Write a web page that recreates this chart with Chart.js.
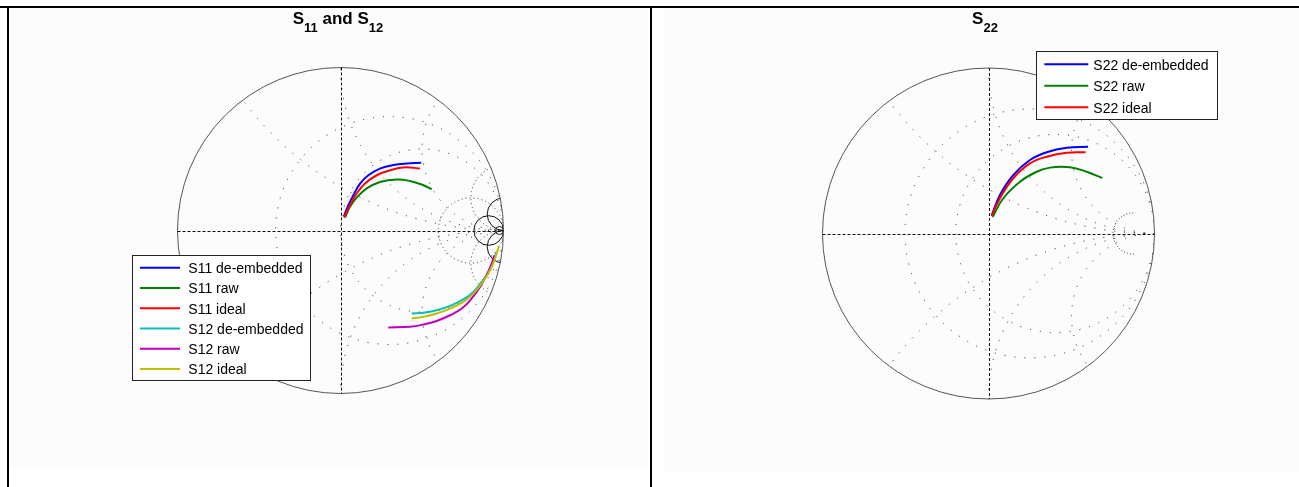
<!DOCTYPE html>
<html>
<head>
<meta charset="utf-8">
<title>S-parameter Smith charts</title>
<script src="https://cdn.jsdelivr.net/npm/chart.js@4.4.1/dist/chart.umd.min.js"></script>
<style>
  html, body { margin: 0; padding: 0; background: #fff; width: 1299px; height: 487px; overflow: hidden; }
  .tint { position: absolute; background: #fcfcfc; }
  .panel { position: absolute; top: 0; height: 487px; }
  .panel canvas { display: block; }
  .rule { position: absolute; background: #000; }
</style>
</head>
<body>
<div class="tint" style="left:9px;top:8px;width:639px;height:460px"></div>
<div class="tint" style="left:665px;top:8px;width:634px;height:464px"></div>
<div class="panel" style="left:0;width:650px"><canvas id="chartS11S12" width="650" height="487"></canvas></div>
<div class="panel" style="left:652px;width:647px"><canvas id="chartS22" width="647" height="487"></canvas></div>
<div class="rule" style="left:0;top:6px;width:1299px;height:2px"></div>
<div class="rule" style="left:7px;top:6px;width:2px;height:481px"></div>
<div class="rule" style="left:650px;top:6px;width:2px;height:481px"></div>

<script>
// Reflection coefficients (real / imaginary parts) over the measured sweep

// S11
const s11DeembRe = [0.021, 0.048, 0.079, 0.120, 0.171, 0.242, 0.324, 0.406, 0.495];
const s11DeembIm = [0.088, 0.155, 0.217, 0.288, 0.339, 0.380, 0.402, 0.411, 0.415];
const s11RawRe   = [0.028, 0.058, 0.099, 0.161, 0.242, 0.345, 0.426, 0.498, 0.559];
const s11RawIm   = [0.080, 0.145, 0.202, 0.258, 0.298, 0.313, 0.304, 0.282, 0.253];
const s11IdealRe = [0.021, 0.058, 0.099, 0.150, 0.222, 0.304, 0.396, 0.487];
const s11IdealIm = [0.080, 0.155, 0.227, 0.288, 0.339, 0.370, 0.388, 0.380];

// S12
const s12DeembRe = [0.437, 0.508, 0.590, 0.672, 0.754, 0.815, 0.866, 0.907, 0.937, 0.957];
const s12DeembIm = [-0.509, -0.505, -0.489, -0.462, -0.423, -0.377, -0.315, -0.254, -0.186, -0.133];
const s12RawRe   = [0.293, 0.426, 0.508, 0.590, 0.672, 0.744, 0.805, 0.856, 0.897, 0.928, 0.944];
const s12RawIm   = [-0.595, -0.591, -0.577, -0.555, -0.520, -0.479, -0.417, -0.346, -0.274, -0.202, -0.152];
const s12IdealRe = [0.437, 0.508, 0.590, 0.672, 0.754, 0.815, 0.866, 0.907, 0.937, 0.958, 0.972];
const s12IdealIm = [-0.540, -0.530, -0.509, -0.479, -0.438, -0.387, -0.325, -0.264, -0.202, -0.141, -0.096];

// S22
const s22DeembRe = [0.019, 0.069, 0.149, 0.250, 0.351, 0.471, 0.600];
const s22DeembIm = [0.108, 0.233, 0.353, 0.444, 0.491, 0.518, 0.524];
const s22RawRe   = [0.025, 0.089, 0.190, 0.290, 0.370, 0.491, 0.592, 0.685];
const s22RawIm   = [0.100, 0.213, 0.313, 0.373, 0.398, 0.400, 0.373, 0.335];
const s22IdealRe = [0.019, 0.069, 0.149, 0.250, 0.351, 0.471, 0.585];
const s22IdealIm = [0.106, 0.213, 0.334, 0.424, 0.464, 0.488, 0.491];

// Legend labels
const labelsLeft  = ['S11 de-embedded', 'S11 raw', 'S11 ideal', 'S12 de-embedded', 'S12 raw', 'S12 ideal'];
const labelsRight = ['S22 de-embedded', 'S22 raw', 'S22 ideal'];

// Smith grid values (normalised resistance / reactance)
const gridLeftR   = [0.43, 1];
const gridLeftX   = [0.5, 1, 2];
const gridLeftFineR = [4];
const gridLeftFineX = [5];
const gridLeftSolidR = [10, 40];
const gridLeftSolidX = [10];
const gridRightR  = [0.33, 0.67];
const gridRightX  = [0.5, 1, 2];
const gridRightHalfR = [7];

const FONT = '"Liberation Sans", Arial, Helvetica, sans-serif';

// Title with subscripted port indices
function drawTitle(ctx, parts, cx, base) {
  const f = p => (p.sub ? 'bold 13px ' : 'bold 17px ') + FONT;
  let w = 0;
  parts.forEach(p => { ctx.font = f(p); w += ctx.measureText(p.t).width; });
  let x = cx - w / 2;
  ctx.fillStyle = '#000';
  ctx.textBaseline = 'alphabetic';
  ctx.textAlign = 'left';
  parts.forEach(p => {
    ctx.font = f(p);
    ctx.fillText(p.t, x, base + (p.sub ? 8 : 0));
    x += ctx.measureText(p.t).width;
  });
}

const smithDecor = {
  id: 'smithDecor',
  beforeDatasetsDraw(chart, args, o) {
    const ctx = chart.ctx, xs = chart.scales.x, ys = chart.scales.y;
    const X = v => xs.getPixelForValue(v), Y = v => ys.getPixelForValue(v);
    const ux = X(1) - X(0), uy = Y(0) - Y(1);
    const cx0 = X(0), cy0 = Y(0);

    const ell = (gx, gy, rad, a0 = 0, a1 = 2 * Math.PI) => {
      ctx.beginPath();
      ctx.ellipse(X(gx), Y(gy), rad * ux, rad * uy, 0, a0, a1);
      ctx.stroke();
    };
    const rCircle = (r, a0, a1) => ell(r / (1 + r), 0, 1 / (1 + r), a0, a1);
    const xArcs = x => { ell(1, 1 / x, 1 / x); ell(1, -1 / x, 1 / x); };

    // grid, clipped to the unit circle
    ctx.save();
    ctx.beginPath();
    ctx.ellipse(cx0, cy0, ux, uy, 0, 0, 2 * Math.PI);
    ctx.clip();
    o.grid.forEach(g => {
      ctx.strokeStyle = g.color;
      ctx.lineWidth = 1;
      ctx.setLineDash(g.dash);
      (g.r || []).forEach(r => rCircle(r));
      (g.x || []).forEach(x => xArcs(x));
      (g.rHalf || []).forEach(r => rCircle(r, Math.PI / 2, 3 * Math.PI / 2));
    });
    ctx.restore();

    // outer boundary |Γ| = 1
    ctx.save();
    ctx.strokeStyle = '#555';
    ctx.lineWidth = 1;
    ctx.beginPath();
    ctx.ellipse(cx0, cy0, ux, uy, 0, 0, 2 * Math.PI);
    ctx.stroke();

    // dashed real / imaginary axes
    ctx.strokeStyle = '#111';
    ctx.setLineDash([3, 2]);
    const hy = Math.round(cy0) + 0.5, vx = Math.round(cx0) + 0.5;
    ctx.beginPath(); ctx.moveTo(X(-1), hy); ctx.lineTo(X(1), hy); ctx.stroke();
    ctx.beginPath(); ctx.moveTo(vx, Y(1)); ctx.lineTo(vx, Y(-1)); ctx.stroke();
    ctx.restore();
  },
  afterDraw(chart, args, o) {
    const ctx = chart.ctx;
    ctx.save();
    drawTitle(ctx, o.title.parts, o.title.x, o.title.y);

    const L = o.legend;
    ctx.fillStyle = '#fff';
    ctx.fillRect(L.x, L.y, L.w, L.h);
    ctx.strokeStyle = '#222';
    ctx.lineWidth = 1;
    ctx.setLineDash([]);
    ctx.strokeRect(L.x + 0.5, L.y + 0.5, L.w, L.h);
    ctx.font = '14px ' + FONT;
    ctx.textBaseline = 'alphabetic';
    ctx.textAlign = 'left';
    chart.data.datasets.forEach((ds, i) => {
      const y = L.y + L.first + i * L.step;
      ctx.strokeStyle = ds.borderColor;
      ctx.lineWidth = 2;
      ctx.beginPath();
      ctx.moveTo(L.x + L.lineFrom, y);
      ctx.lineTo(L.x + L.lineTo, y);
      ctx.stroke();
      ctx.fillStyle = '#000';
      ctx.fillText(ds.label, L.x + L.text, y + 5.3);
    });
    ctx.restore();
  }
};

function traces(list) {
  return list.map((s, i) => ({
    label: s.label,
    data: s.re.map((v, k) => ({ x: v, y: s.im[k] })),
    borderColor: s.color,
    backgroundColor: s.color,
    showLine: true,
    pointRadius: 0,
    borderWidth: 2,
    tension: 0.4,
    order: list.length - i
  }));
}

function smithChart(id, datasets, padding, decor) {
  return new Chart(document.getElementById(id), {
    type: 'scatter',
    data: { datasets },
    options: {
      responsive: false,
      animation: false,
      devicePixelRatio: 1,
      events: [],
      layout: { padding },
      scales: {
        x: { type: 'linear', min: -1, max: 1, display: false },
        y: { type: 'linear', min: -1, max: 1, display: false }
      },
      plugins: {
        legend: { display: false },
        tooltip: { enabled: false },
        title: { display: false },
        smithDecor: decor
      }
    },
    plugins: [smithDecor]
  });
}

smithChart('chartS11S12', traces([
  { label: labelsLeft[0], re: s11DeembRe, im: s11DeembIm, color: '#0000ff' },
  { label: labelsLeft[1], re: s11RawRe,   im: s11RawIm,   color: '#008000' },
  { label: labelsLeft[2], re: s11IdealRe, im: s11IdealIm, color: '#ff0000' },
  { label: labelsLeft[3], re: s12DeembRe, im: s12DeembIm, color: '#00bfbf' },
  { label: labelsLeft[4], re: s12RawRe,   im: s12RawIm,   color: '#bf00bf' },
  { label: labelsLeft[5], re: s12IdealRe, im: s12IdealIm, color: '#bfbf00' }
]), { left: 177.5, right: 146.5, top: 67.5, bottom: 93.5 }, {
  grid: [
    { r: gridLeftR, x: gridLeftX, dash: [1, 9], color: '#222' },
    { r: gridLeftFineR, x: gridLeftFineX, dash: [1, 3], color: '#333' },
    { r: gridLeftSolidR, x: gridLeftSolidX, dash: [], color: '#111' }
  ],
  title: { parts: [{ t: 'S' }, { t: '11', sub: true }, { t: ' and S' }, { t: '12', sub: true }], x: 338, y: 23.5 },
  legend: { x: 132, y: 255, w: 178, h: 125, first: 12.7, step: 20.26, lineFrom: 8, lineTo: 48, text: 56.3 }
});

smithChart('chartS22', traces([
  { label: labelsRight[0], re: s22DeembRe, im: s22DeembIm, color: '#0000ff' },
  { label: labelsRight[1], re: s22RawRe,   im: s22RawIm,   color: '#008000' },
  { label: labelsRight[2], re: s22IdealRe, im: s22IdealIm, color: '#ff0000' }
]), { left: 170.5, right: 144.5, top: 68, bottom: 88 }, {
  grid: [
    { r: gridRightR, x: gridRightX, dash: [1, 9], color: '#222' },
    { rHalf: gridRightHalfR, dash: [1, 2], color: '#333' }
  ],
  title: { parts: [{ t: 'S' }, { t: '22', sub: true }], x: 333, y: 23.5 },
  legend: { x: 384, y: 51, w: 181, h: 68, first: 13.3, step: 21.5, lineFrom: 8.3, lineTo: 52.3, text: 57.3 }
});
</script>
</body>
</html>
